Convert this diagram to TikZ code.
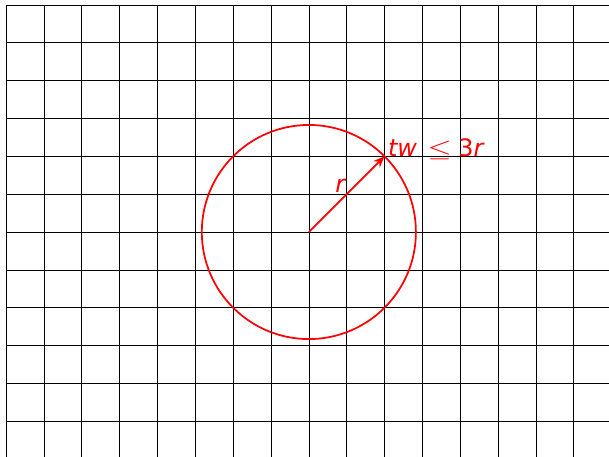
\documentclass[tikz,border=0pt]{standalone}
\usepackage{fontspec}
\setmainfont{DejaVu Sans}
\usepackage{graphicx}
\usepackage{tikz}
\usetikzlibrary{arrows.meta,calc}
\definecolor{ballred}{RGB}{255,0,0}

\begin{document}
\begin{tikzpicture}[every node/.style={font=\fontsize{18}{22}\selectfont, text=ballred}]
\clip (-8.16,-5.94) rectangle (7.93,6.13);
\draw[line width=0.5pt, black] (-8,-7) grid (9,6);

\coordinate (centre) at (0,0);
\coordinate (rim) at (2,2);

\draw[ballred, line width=1.3pt] (centre) circle ({2*sqrt(2)});
\draw[-{Stealth[length=3mm,width=2.4mm]}, ballred, line width=1.2pt] (centre) -- node[above left, inner sep=0.5pt] (rlabel) {\itshape r} (rim);
\node[anchor=base west, inner sep=1pt] (bound) at ($(rim)+(0.05,0)$) {\itshape tw\/\hspace{8pt}\upshape\scalebox{1.35}[1.05]{$\leq$}\hspace{5pt}3\itshape r};
\end{tikzpicture}
\end{document}
